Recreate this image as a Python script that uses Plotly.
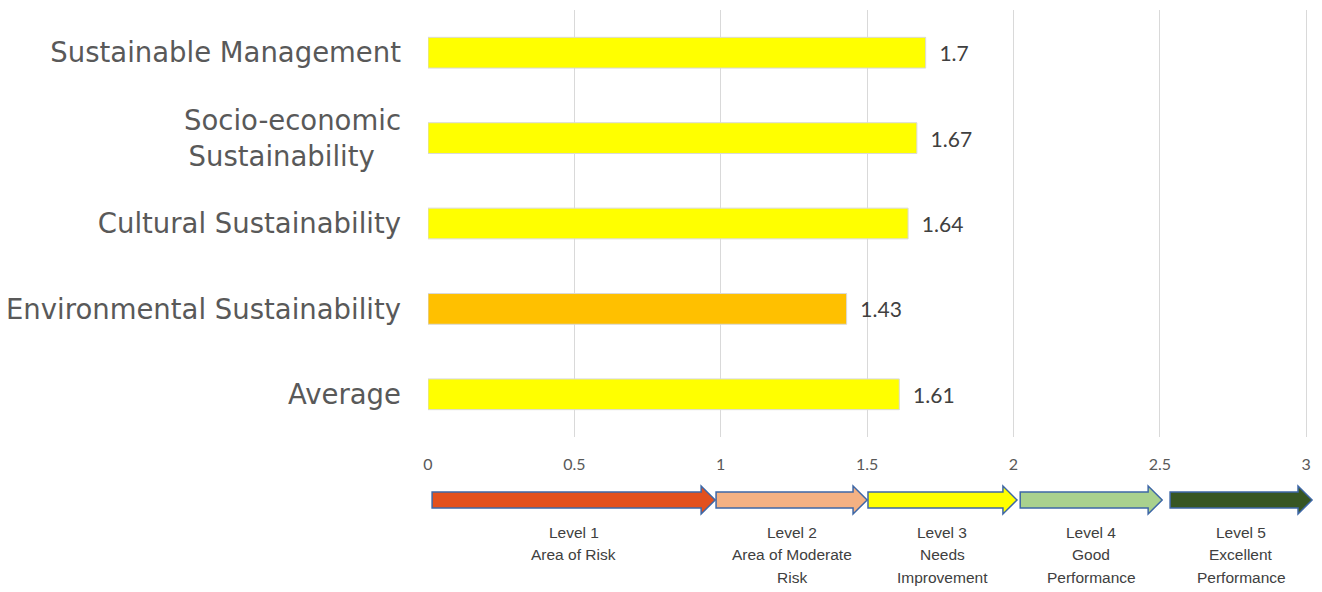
import plotly.graph_objects as go

categories = ["Sustainable Management", "Socio-economic<br>Sustainability\u00a0\u00a0\u00a0",
              "Cultural Sustainability", "Environmental Sustainability", "Average"]
values = [1.7, 1.67, 1.64, 1.43, 1.61]
bar_colors = ["#FFFF00", "#FFFF00", "#FFFF00", "#FFC000", "#FFFF00"]
value_labels = ["1.7", "1.67", "1.64", "1.43", "1.61"]
x_ticks = [0, 0.5, 1, 1.5, 2, 2.5, 3]
x_tick_labels = ["0", "0.5", "1", "1.5", "2", "2.5", "3"]

level_names = [["Level 1", "Area of Risk"], ["Level 2", "Area of Moderate", "Risk"],
               ["Level 3", "Needs", "Improvement"], ["Level 4", "Good", "Performance"],
               ["Level 5", "Excellent", "Performance"]]
level_starts = [0.014, 0.984, 1.503, 2.023, 2.535]
level_ends = [0.981, 1.500, 2.012, 2.508, 3.020]
level_colors = ["#E2501E", "#F4B183", "#FFFF00", "#A9D18E", "#375623"]

fig = go.Figure()
fig.add_trace(go.Bar(
    y=categories, x=values, orientation="h",
    marker=dict(color=bar_colors, line=dict(color="#D9D9D9", width=1)),
    text=["  " + t for t in value_labels], textposition="outside",
    textfont=dict(family="Lato, sans-serif", size=21, color="#404040"),
    cliponaxis=False, width=0.36,
))

# arrows
yc, bh, hh = -0.1475, 0.0187, 0.0328
head = 0.048
line_step = 0.0527  # ~22.5 px
shapes = []
annotations = []
for s, e, c, lines in zip(level_starts, level_ends, level_colors, level_names):
    hs = e - head
    path = (f"M {s},{yc-bh} L {hs},{yc-bh} L {hs},{yc-hh} L {e},{yc} "
            f"L {hs},{yc+hh} L {hs},{yc+bh} L {s},{yc+bh} Z")
    shapes.append(dict(type="path", xref="x", yref="paper", path=path,
                       fillcolor=c, line=dict(color="#3E67A6", width=1.5), layer="above"))
    for i, ln in enumerate(lines):
        annotations.append(dict(x=(s + e) / 2, y=-0.2225 - i * line_step, xref="x", yref="paper",
                                text=ln, showarrow=False, yanchor="middle", xanchor="center",
                                font=dict(family="Liberation Sans, Arial, sans-serif", size=15.5,
                                          color="#404040")))

fig.update_layout(
    width=1322, height=592,
    margin=dict(l=428, r=7, t=10, b=155),
    plot_bgcolor="white", paper_bgcolor="white",
    showlegend=False,
    shapes=shapes, annotations=annotations,
    xaxis=dict(range=[0, 3.03], tickvals=x_ticks, ticktext=x_tick_labels,
               showgrid=True, gridcolor="#D9D9D9", gridwidth=1, zeroline=False,
               showline=False, ticks="", ticklabelstandoff=16,
               tickfont=dict(family="Lato, sans-serif", size=16, color="#595959")),
    yaxis=dict(autorange="reversed", showgrid=False, zeroline=False, showline=False,
               ticks="", ticklabelstandoff=26,
               tickfont=dict(family="DejaVu Sans, sans-serif", size=27.5, color="#595959")),
)

fig.write_html("out.html")
